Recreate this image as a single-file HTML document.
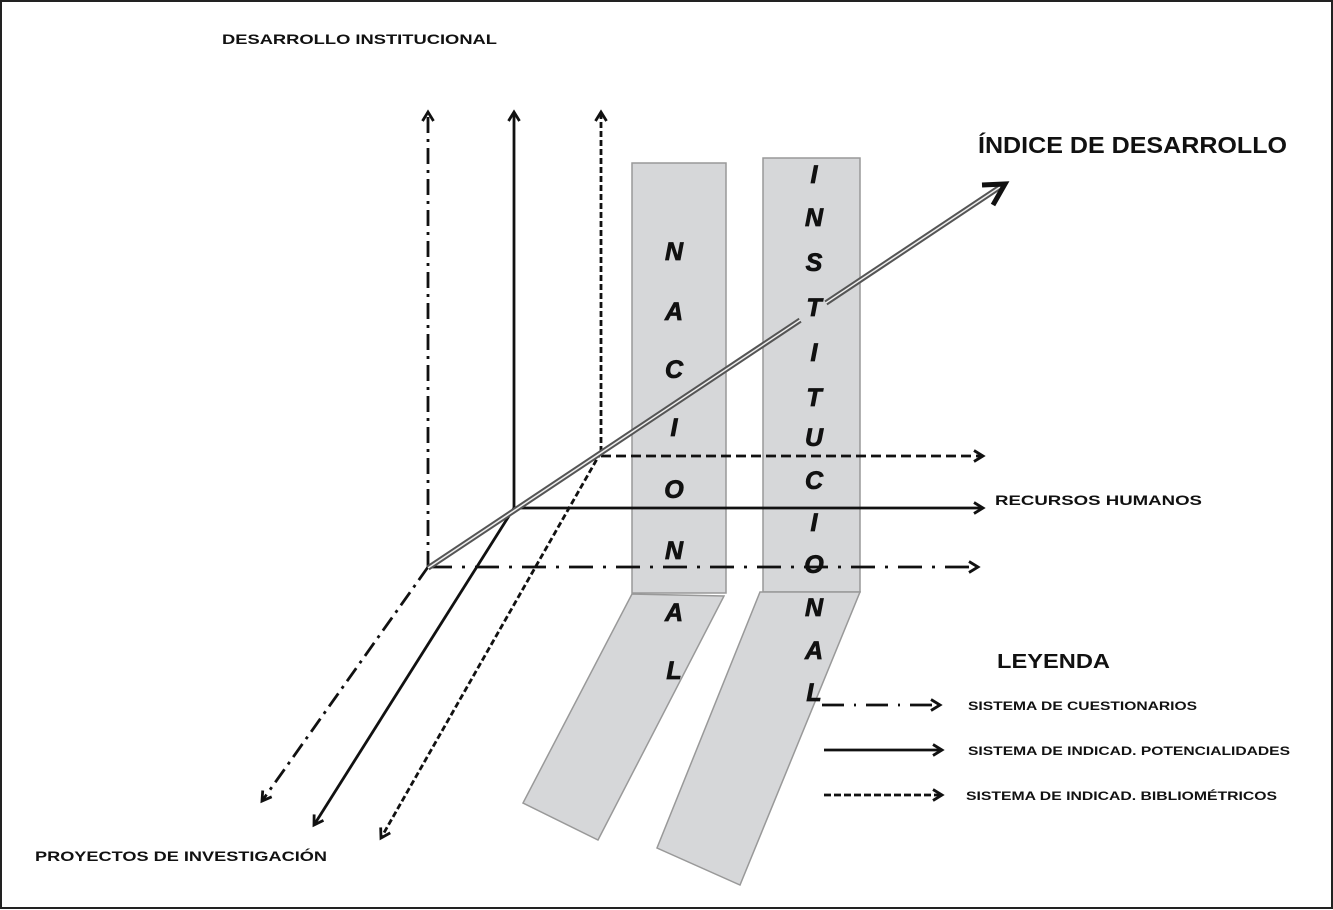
<!DOCTYPE html>
<html><head><meta charset="utf-8"><style>
html,body{margin:0;padding:0;background:#fff;}
svg{display:block;}
text{font-family:"Liberation Sans",sans-serif;font-weight:bold;fill:#111;}
.let{font-style:italic;font-size:25px;font-weight:bold;fill:#111;stroke:#111;stroke-width:0.8;}
</style></head><body>
<svg width="1333" height="910" viewBox="0 0 1333 910" xmlns="http://www.w3.org/2000/svg">
<defs>
<marker id="ah" markerWidth="14" markerHeight="14" refX="11" refY="7" orient="auto" markerUnits="userSpaceOnUse">
<path d="M2,1.5 L11,7 L2,12.5" fill="none" stroke="#111" stroke-width="2.8"/>
</marker>
</defs>
<rect x="1" y="1" width="1331" height="907" fill="#fff" stroke="#222" stroke-width="2"/>

<g fill="#d6d7d9" stroke="#999" stroke-width="1.5">
<rect x="632" y="163" width="94" height="430"/>
<polygon points="632,594 724,596 598,840 523,803"/>
<rect x="763" y="158" width="97" height="434"/>
<polygon points="760,592 860,592 740,885 657,848"/>
</g>

<g stroke="#111" stroke-width="2.8" fill="none" marker-end="url(#ah)">
<line x1="428" y1="567" x2="428" y2="112" stroke-dasharray="16,6,3,6"/>
<line x1="514" y1="508" x2="514" y2="112"/>
<line x1="601" y1="452" x2="601" y2="112" stroke-dasharray="6,3"/>
<line x1="601" y1="456" x2="983" y2="456" stroke-dasharray="10,5"/>
<line x1="514" y1="508" x2="983" y2="508"/>
<line x1="428" y1="567" x2="978" y2="567" stroke-dasharray="24,10,3,10"/>
<line x1="428" y1="567" x2="262" y2="801" stroke-dasharray="16,6,3,6"/>
<line x1="514" y1="508" x2="314" y2="825"/>
<line x1="601" y1="452" x2="381" y2="838" stroke-dasharray="6,3"/>
</g>

<line x1="428" y1="568" x2="1000" y2="187" stroke="#555" stroke-width="5.5"/>
<line x1="428" y1="568" x2="1000" y2="187" stroke="#eee" stroke-width="1.5"/>
<line x1="800" y1="320" x2="826" y2="303" stroke="#d6d7d9" stroke-width="8"/>
<path d="M982,185 L1005,184 L993,205" fill="none" stroke="#111" stroke-width="5"/>

<g text-anchor="middle">
<text class="let" x="674" y="260">N</text>
<text class="let" x="674" y="320">A</text>
<text class="let" x="674" y="378">C</text>
<text class="let" x="674" y="436">I</text>
<text class="let" x="674" y="498">O</text>
<text class="let" x="674" y="559">N</text>
<text class="let" x="674" y="621">A</text>
<text class="let" x="674" y="679">L</text>
<text class="let" x="814" y="183">I</text>
<text class="let" x="814" y="226">N</text>
<text class="let" x="814" y="271">S</text>
<text class="let" x="814" y="316">T</text>
<text class="let" x="814" y="361">I</text>
<text class="let" x="814" y="406">T</text>
<text class="let" x="814" y="446">U</text>
<text class="let" x="814" y="489">C</text>
<text class="let" x="814" y="531">I</text>
<text class="let" x="814" y="573">O</text>
<text class="let" x="814" y="616">N</text>
<text class="let" x="814" y="659">A</text>
<text class="let" x="814" y="701">L</text>
</g>

<text x="222" y="44" font-size="14" textLength="275" lengthAdjust="spacingAndGlyphs">DESARROLLO INSTITUCIONAL</text>
<text x="978" y="153" font-size="23" textLength="309" lengthAdjust="spacingAndGlyphs">ÍNDICE DE DESARROLLO</text>
<text x="995" y="505" font-size="14" textLength="207" lengthAdjust="spacingAndGlyphs">RECURSOS HUMANOS</text>
<text x="35" y="861" font-size="14" textLength="292" lengthAdjust="spacingAndGlyphs">PROYECTOS DE INVESTIGACIÓN</text>
<text x="997" y="668" font-size="20" textLength="113" lengthAdjust="spacingAndGlyphs">LEYENDA</text>

<g stroke="#111" stroke-width="2.8" fill="none" marker-end="url(#ah)">
<line x1="822" y1="705" x2="940" y2="705" stroke-dasharray="22,10,2,10"/>
<line x1="824" y1="750" x2="942" y2="750"/>
<line x1="824" y1="795" x2="942" y2="795" stroke-dasharray="7,3"/>
</g>
<text x="968" y="710" font-size="12" textLength="229" lengthAdjust="spacingAndGlyphs">SISTEMA DE CUESTIONARIOS</text>
<text x="968" y="755" font-size="12" textLength="322" lengthAdjust="spacingAndGlyphs">SISTEMA DE INDICAD. POTENCIALIDADES</text>
<text x="966" y="800" font-size="12" textLength="311" lengthAdjust="spacingAndGlyphs">SISTEMA DE INDICAD. BIBLIOMÉTRICOS</text>
</svg>
</body></html>
